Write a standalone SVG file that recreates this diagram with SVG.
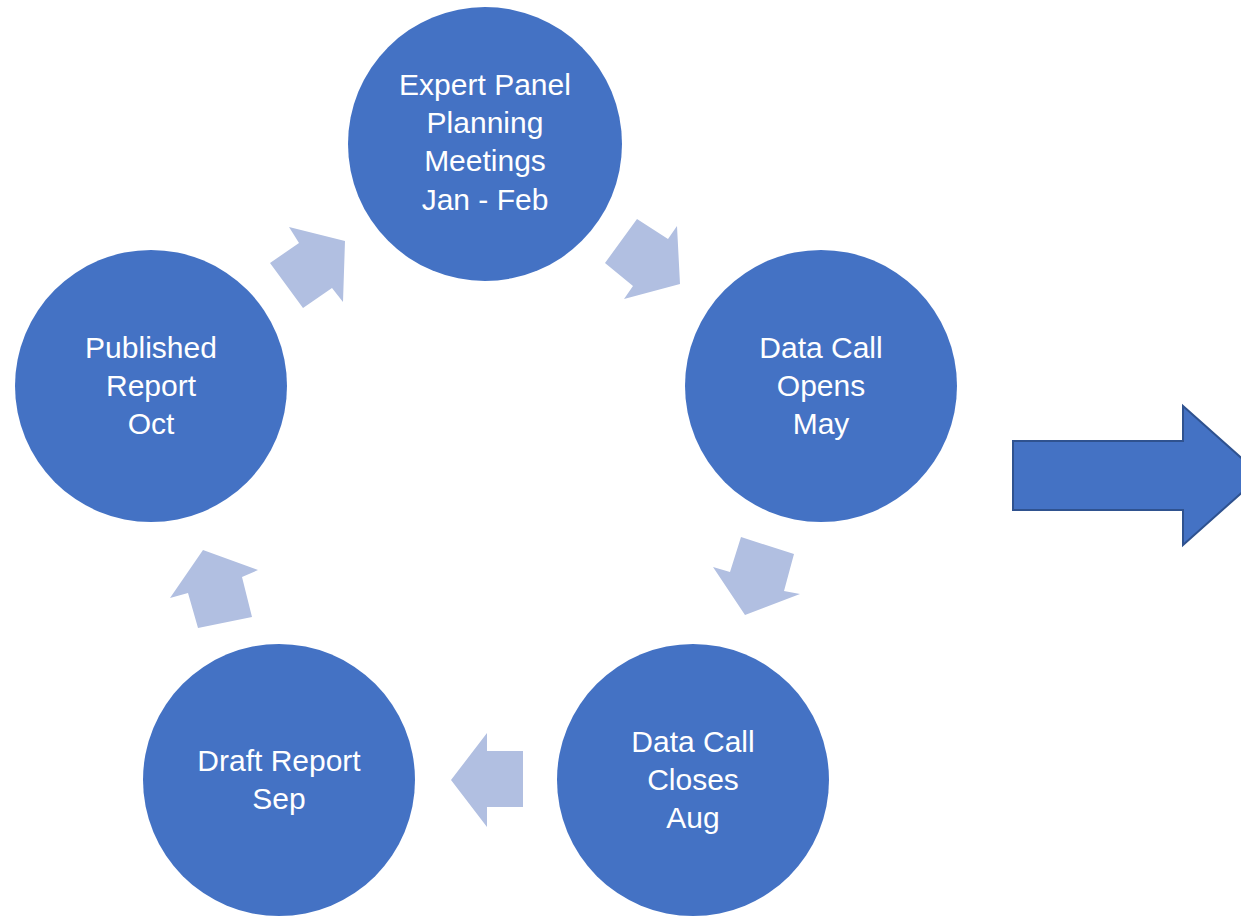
<svg xmlns="http://www.w3.org/2000/svg" width="1241" height="916" viewBox="0 0 1241 916">
<style>
.c{fill:#4472C4}
.t{fill:#fff;font-family:"Liberation Sans",Arial,sans-serif;font-size:30px;text-anchor:middle}
.a{fill:#B1BFE1}
.big{fill:#4472C4;stroke:#2F528F;stroke-width:2}
</style>
<rect width="1241" height="916" fill="#fff"/>
<g id="n1"><circle class="c" cx="485" cy="144" r="137"/>
<text class="t"><tspan x="485" y="95">Expert Panel</tspan><tspan x="485" y="133">Planning</tspan><tspan x="485" y="171">Meetings</tspan><tspan x="485" y="210">Jan - Feb</tspan></text></g>
<g id="n2"><circle class="c" cx="821" cy="386" r="136"/>
<text class="t"><tspan x="821" y="358">Data Call</tspan><tspan x="821" y="396">Opens</tspan><tspan x="821" y="434">May</tspan></text></g>
<g id="n3"><circle class="c" cx="693" cy="780" r="136"/>
<text class="t"><tspan x="693" y="752">Data Call</tspan><tspan x="693" y="790">Closes</tspan><tspan x="693" y="828">Aug</tspan></text></g>
<g id="n4"><circle class="c" cx="279" cy="780" r="136"/>
<text class="t"><tspan x="279" y="771">Draft Report</tspan><tspan x="279" y="809">Sep</tspan></text></g>
<g id="n5"><circle class="c" cx="151" cy="386" r="136"/>
<text class="t"><tspan x="151" y="358">Published</tspan><tspan x="151" y="396">Report</tspan><tspan x="151" y="434">Oct</tspan></text></g>
<g id="connectors">
<polygon class="a" points="289,227 345,241 343,302 332,288 303,308 270,263 299,243"/>
<polygon class="a" points="637,219 668,239 677,226 680,284 624,299 633,286 605,263"/>
<polygon class="a" points="741,537 794,554 784,591 800,594 745,615 713,567 730,572"/>
<polygon class="a" points="487,733 487,751 523,751 523,807 487,807 487,827 451,780"/>
<polygon class="a" points="203,550 258,570 242,577 252,617 198,628 188,593 170,598"/>
<polygon class="big" points="1013,441 1183,441 1183,406 1261,475.5 1183,545 1183,510 1013,510"/>
</g>
</svg>
